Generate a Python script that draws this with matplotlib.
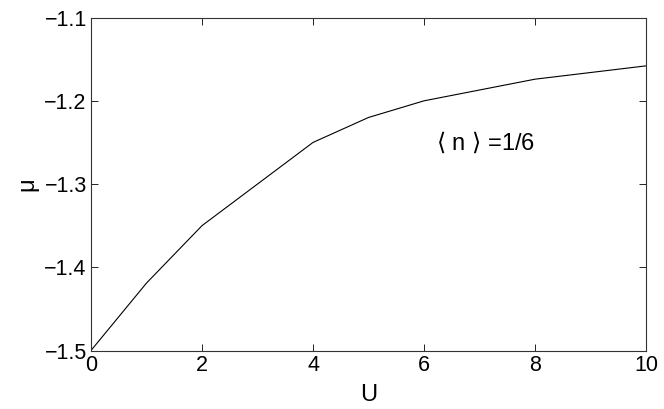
import matplotlib

matplotlib.use("Agg")

import matplotlib.pyplot as plt

# chemical potential vs interaction strength
U_VALUES = [0, 1, 2, 4, 5, 6, 8, 10]
MU_VALUES = [-1.5, -1.419, -1.35, -1.25, -1.22, -1.2, -1.174, -1.158]
X_TICKS = [0, 2, 4, 6, 8, 10]
Y_TICKS = [-1.5, -1.4, -1.3, -1.2, -1.1]
ANNOTATION = r"$\langle$ n $\rangle$ =1/6"

plt.rcParams["font.family"] = ["Liberation Sans", "DejaVu Sans"]
plt.rcParams["mathtext.fontset"] = "dejavusans"

fig = plt.figure(figsize=(6.64, 4.09), dpi=100)
ax = fig.add_axes([0.137, 0.143, 0.836, 0.814])

ax.plot(U_VALUES, MU_VALUES, color="black", linewidth=0.8)

ax.set_xlim(0, 10)
ax.set_ylim(-1.5, -1.1)
ax.set_xticks(X_TICKS)
ax.set_yticks(Y_TICKS)
ax.set_yticklabels([f"{v:.1f}".replace("-", "\u2212") for v in Y_TICKS])
ax.tick_params(direction="in", length=5, width=0.6, labelsize=15.5,
               top=True, right=True, pad=3)
for spine in ax.spines.values():
    spine.set_linewidth(0.8)
    spine.set_color("#333333")

ax.set_xlabel("U", fontsize=17, labelpad=6)
ax.set_ylabel("\u03bc", fontsize=17, labelpad=4)

ax.text(6.22, -1.25, ANNOTATION, fontsize=17, va="center", ha="left")

fig.savefig("out.png", dpi=100)
